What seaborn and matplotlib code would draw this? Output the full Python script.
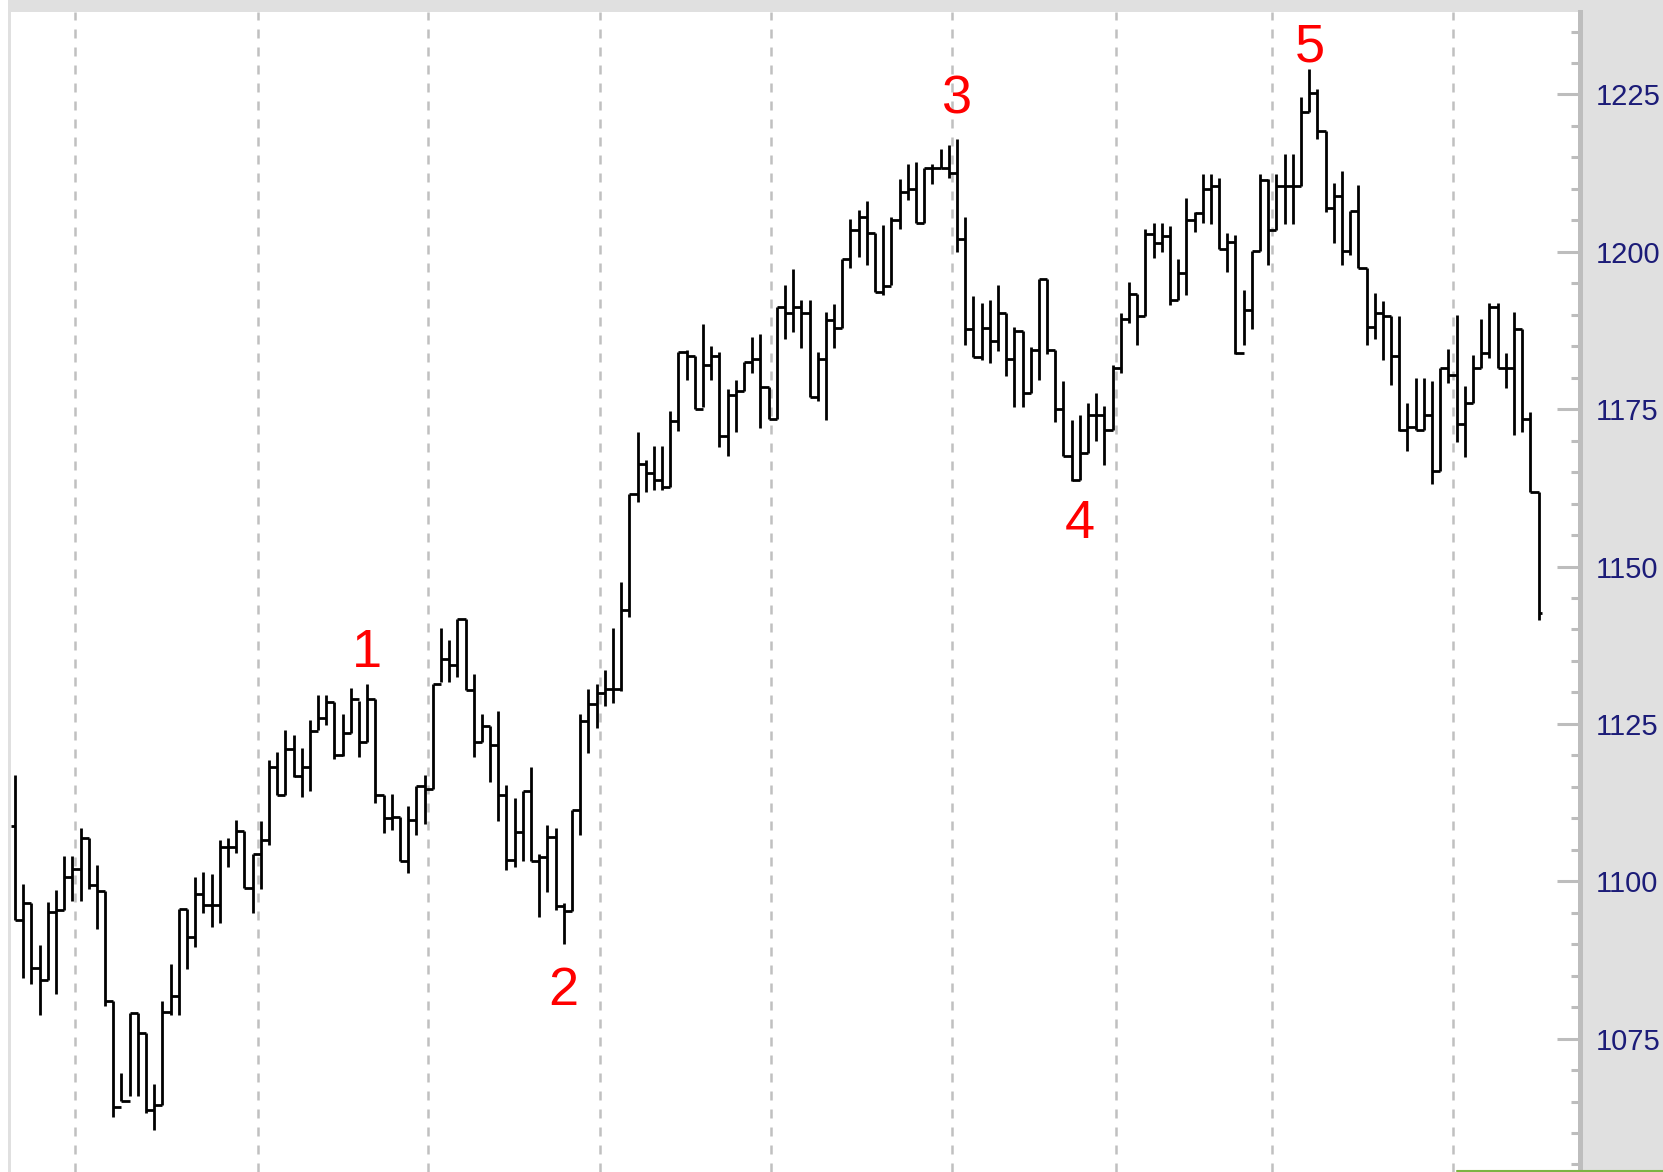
import matplotlib
matplotlib.use('Agg')
import matplotlib.pyplot as plt
import numpy as np
import seaborn as sns
from matplotlib.ticker import MultipleLocator
from matplotlib.lines import Line2D
from matplotlib.patches import Rectangle

# bar data (one entry per bar, left to right)
highs = [
    1116.9, 1099.6, 1096.5, 1089.9, 1096.7, 1098.6, 1104.0, 1104.0, 1108.4, 1106.9,
    1102.5, 1098.5, 1080.9, 1069.6, 1079.0, 1079.0, 1075.9, 1067.8, 1080.9, 1086.9,
    1095.6, 1095.6, 1100.7, 1101.5, 1101.1, 1106.6, 1106.9, 1109.8, 1107.9, 1104.4,
    1109.5, 1119.2, 1120.6, 1124.1, 1123.2, 1121.1, 1125.6, 1129.6, 1129.6, 1128.5,
    1126.6, 1130.7, 1128.7, 1131.4, 1129.0, 1113.7, 1113.8, 1110.2, 1111.9, 1115.1,
    1116.8, 1131.3, 1140.3, 1138.4, 1141.7, 1141.7, 1133.0, 1126.5, 1124.6, 1127.1,
    1115.3, 1113.3, 1114.4, 1118.2, 1104.3, 1108.9, 1108.4, 1096.6, 1111.3, 1126.5,
    1130.5, 1131.4, 1133.6, 1140.3, 1147.6, 1161.5, 1171.3, 1166.9, 1169.2, 1169.2,
    1174.7, 1184.1, 1184.4, 1183.5, 1188.5, 1185.0, 1184.1, 1178.2, 1179.6, 1182.5,
    1186.4, 1187.0, 1178.5, 1191.3, 1194.8, 1197.3, 1192.3, 1192.3, 1184.1, 1190.5,
    1191.7, 1198.8, 1205.2, 1206.7, 1208.0, 1203.0, 1204.2, 1205.6, 1211.5, 1213.9,
    1214.3, 1213.3, 1213.9, 1216.4, 1216.9, 1217.9, 1205.6, 1192.9, 1191.8, 1192.3,
    1194.8, 1190.3, 1188.0, 1187.4, 1184.9, 1195.7, 1195.7, 1184.4, 1179.5, 1173.2,
    1174.1, 1176.0, 1177.6, 1175.5, 1182.0, 1190.3, 1195.2, 1193.3, 1203.6, 1204.6,
    1204.6, 1204.1, 1198.8, 1208.5, 1206.4, 1212.4, 1212.4, 1211.7, 1203.0, 1202.6,
    1193.9, 1200.1, 1212.4, 1211.5, 1212.4, 1215.5, 1215.5, 1224.6, 1229.1, 1225.8,
    1219.2, 1211.0, 1212.9, 1206.5, 1210.6, 1197.5, 1193.4, 1192.2, 1189.8, 1189.8,
    1176.0, 1180.0, 1180.0, 1179.5, 1181.5, 1184.5, 1189.9, 1178.6, 1183.6, 1189.4,
    1191.8, 1191.8, 1184.0, 1190.4, 1187.8, 1174.6, 1161.9,
]
lows = [
    1093.9, 1084.6, 1083.6, 1078.8, 1084.3, 1082.1, 1095.4, 1096.8, 1096.8, 1098.8,
    1092.4, 1080.2, 1062.5, 1065.1, 1065.8, 1065.8, 1063.1, 1060.5, 1064.5, 1078.8,
    1078.8, 1086.0, 1089.5, 1094.9, 1092.8, 1093.3, 1102.2, 1104.5, 1098.9, 1094.9,
    1098.7, 1105.8, 1113.7, 1113.7, 1116.6, 1113.4, 1114.4, 1124.0, 1124.8, 1119.4,
    1119.9, 1123.5, 1119.8, 1122.1, 1112.5, 1107.6, 1108.1, 1103.2, 1101.3, 1107.4,
    1109.1, 1114.6, 1131.6, 1131.6, 1132.5, 1130.4, 1119.8, 1122.1, 1115.8, 1109.5,
    1101.8, 1102.2, 1103.2, 1103.2, 1094.3, 1098.3, 1095.4, 1090.0, 1095.2, 1107.4,
    1120.3, 1124.3, 1127.9, 1128.3, 1130.3, 1141.9, 1160.3, 1161.8, 1162.2, 1162.2,
    1162.7, 1171.6, 1179.7, 1175.0, 1175.3, 1179.7, 1169.0, 1167.5, 1171.4, 1177.9,
    1180.8, 1172.0, 1173.5, 1173.5, 1186.1, 1187.2, 1184.7, 1177.0, 1176.3, 1173.3,
    1184.7, 1187.9, 1197.4, 1199.1, 1197.9, 1193.6, 1193.1, 1194.7, 1203.7, 1208.2,
    1204.5, 1204.5, 1210.8, 1213.3, 1211.8, 1200.0, 1185.2, 1183.3, 1182.8, 1182.3,
    1184.2, 1180.3, 1175.3, 1175.3, 1177.5, 1179.7, 1183.7, 1172.9, 1167.6, 1163.6,
    1163.7, 1168.1, 1170.0, 1166.1, 1171.7, 1180.8, 1188.7, 1185.2, 1189.8, 1199.0,
    1199.9, 1191.5, 1192.3, 1193.1, 1203.2, 1204.5, 1204.4, 1200.5, 1196.8, 1183.8,
    1185.2, 1187.7, 1200.1, 1197.9, 1203.4, 1204.4, 1204.4, 1210.4, 1222.2, 1218.0,
    1206.4, 1201.4, 1197.9, 1199.5, 1197.5, 1185.2, 1186.1, 1182.8, 1178.8, 1171.6,
    1168.4, 1171.7, 1171.7, 1163.1, 1165.2, 1179.2, 1169.8, 1167.4, 1175.9, 1181.5,
    1183.2, 1181.5, 1178.3, 1170.9, 1171.4, 1161.9, 1141.5,
]
closes = [
    1093.9, 1096.5, 1086.2, 1084.3, 1095.1, 1095.4, 1100.6, 1101.9, 1106.9, 1099.4,
    1098.5, 1080.9, 1064.1, 1065.1, 1079.0, 1075.9, 1063.7, 1064.5, 1079.3, 1081.8,
    1095.6, 1091.1, 1098.0, 1096.2, 1096.2, 1105.4, 1105.4, 1107.9, 1098.9, 1104.4,
    1106.5, 1118.2, 1113.7, 1121.0, 1116.7, 1118.1, 1123.8, 1126.0, 1128.5, 1120.1,
    1123.5, 1129.0, 1122.1, 1129.0, 1113.7, 1110.0, 1110.2, 1103.2, 1109.7, 1115.1,
    1114.6, 1131.3, 1135.3, 1134.4, 1141.7, 1130.4, 1122.1, 1124.6, 1121.6, 1113.7,
    1103.4, 1107.8, 1114.4, 1103.2, 1103.9, 1107.0, 1096.1, 1095.2, 1111.3, 1125.5,
    1128.1, 1129.9, 1130.5, 1130.5, 1143.1, 1161.5, 1166.3, 1164.8, 1163.7, 1162.7,
    1173.1, 1184.1, 1183.5, 1175.0, 1182.0, 1183.5, 1170.7, 1177.2, 1177.9, 1182.5,
    1182.9, 1178.5, 1173.5, 1191.3, 1190.2, 1191.3, 1190.2, 1177.0, 1182.9, 1189.2,
    1187.9, 1198.8, 1203.5, 1205.6, 1203.0, 1193.6, 1194.5, 1205.0, 1209.5, 1209.9,
    1204.5, 1213.3, 1213.3, 1213.3, 1212.5, 1202.1, 1187.8, 1183.3, 1187.9, 1185.9,
    1190.3, 1182.9, 1187.4, 1177.5, 1184.4, 1195.7, 1184.4, 1175.0, 1167.6, 1163.7,
    1168.1, 1174.0, 1174.1, 1171.7, 1181.5, 1189.4, 1193.3, 1189.8, 1202.9, 1201.4,
    1202.5, 1192.3, 1196.7, 1205.0, 1206.1, 1209.9, 1210.4, 1200.5, 1201.6, 1184.0,
    1190.8, 1200.1, 1211.4, 1203.4, 1210.4, 1210.4, 1210.4, 1222.2, 1225.2, 1219.2,
    1206.9, 1208.8, 1200.1, 1206.5, 1197.5, 1188.0, 1190.3, 1189.8, 1183.4, 1171.7,
    1172.2, 1171.7, 1174.1, 1165.2, 1181.5, 1180.4, 1172.6, 1175.9, 1181.5, 1183.9,
    1191.3, 1181.5, 1181.5, 1187.8, 1173.5, 1161.9, 1142.6,
]
first_open = 1108.8

# session separators (in bar units) and the wave count labels
session_breaks = [7.3, 29.7, 50.4, 71.4, 92.3, 114.4, 134.4, 153.4, 175.5]
wave_labels = ['1', '2', '3', '4', '5']
wave_bars = [43.0, 66.9, 115.0, 130.0, 158.1]
wave_levels = [1134.0, 1080.3, 1222.0, 1154.5, 1230.2]
price_ticks = [1075, 1100, 1125, 1150, 1175, 1200, 1225]

sns.set_style('white')
plt.rcParams['font.family'] = ['Liberation Sans', 'DejaVu Sans']

W, H = 1663, 1172
fig = plt.figure(figsize=(W / 100, H / 100), dpi=100, facecolor='#e0e0e0')
fig.add_artist(Rectangle((0, 0), 8 / W, 1, transform=fig.transFigure,
                         facecolor='white', edgecolor='none'))
ax = fig.add_axes([11 / W, 0, (1579.5 - 11) / W, 1 - 12 / H])
ax.set_facecolor('white')

x = np.arange(len(closes))
ymin, ymax = 1053.8, 1238.1
bar_lw = 2.0

for b in session_breaks:
    ax.axvline(b, color='#c0c0c0', lw=1.8, linestyle=(0, (3.6, 3.6)), zorder=0)

ax.vlines(x, lows, highs, color='black', lw=bar_lw, zorder=2)
ax.hlines(closes[:-1], x[:-1], x[1:], color='black', lw=bar_lw, zorder=2)
ax.hlines(closes[-1], x[-1], x[-1] + 0.4, color='black', lw=bar_lw, zorder=2)
ax.hlines(first_open, x[0] - 0.5, x[0], color='black', lw=bar_lw, zorder=2)

for lab, bx, lv in zip(wave_labels, wave_bars, wave_levels):
    ax.text(bx, lv, lab, color='#ff0000', fontsize=39, ha='center', va='baseline')

ax.set_xlim(-0.49, 191.0)
ax.set_ylim(ymin, ymax)

for side in ['left', 'top', 'bottom']:
    ax.spines[side].set_visible(False)
ax.spines['right'].set_color('#bdbdbd')
ax.spines['right'].set_linewidth(3.6)

ax.yaxis.tick_right()
ax.set_yticks(price_ticks)
ax.set_yticklabels([str(t) for t in price_ticks])
ax.yaxis.set_minor_locator(MultipleLocator(5))
ax.tick_params(axis='y', which='major', direction='in', length=16.6, width=2.2,
               color='#bdbdbd', pad=12, labelsize=21, labelcolor='#1c1c78')
ax.tick_params(axis='y', which='minor', direction='in', length=6.5, width=2.2,
               color='#bdbdbd')
ax.tick_params(axis='x', which='both', bottom=False, labelbottom=False)

fig.add_artist(Line2D([1457 / W, 1], [1.2 / H, 1.2 / H], color='#7cb342', lw=1.5))

fig.savefig('out.png', dpi=100)
